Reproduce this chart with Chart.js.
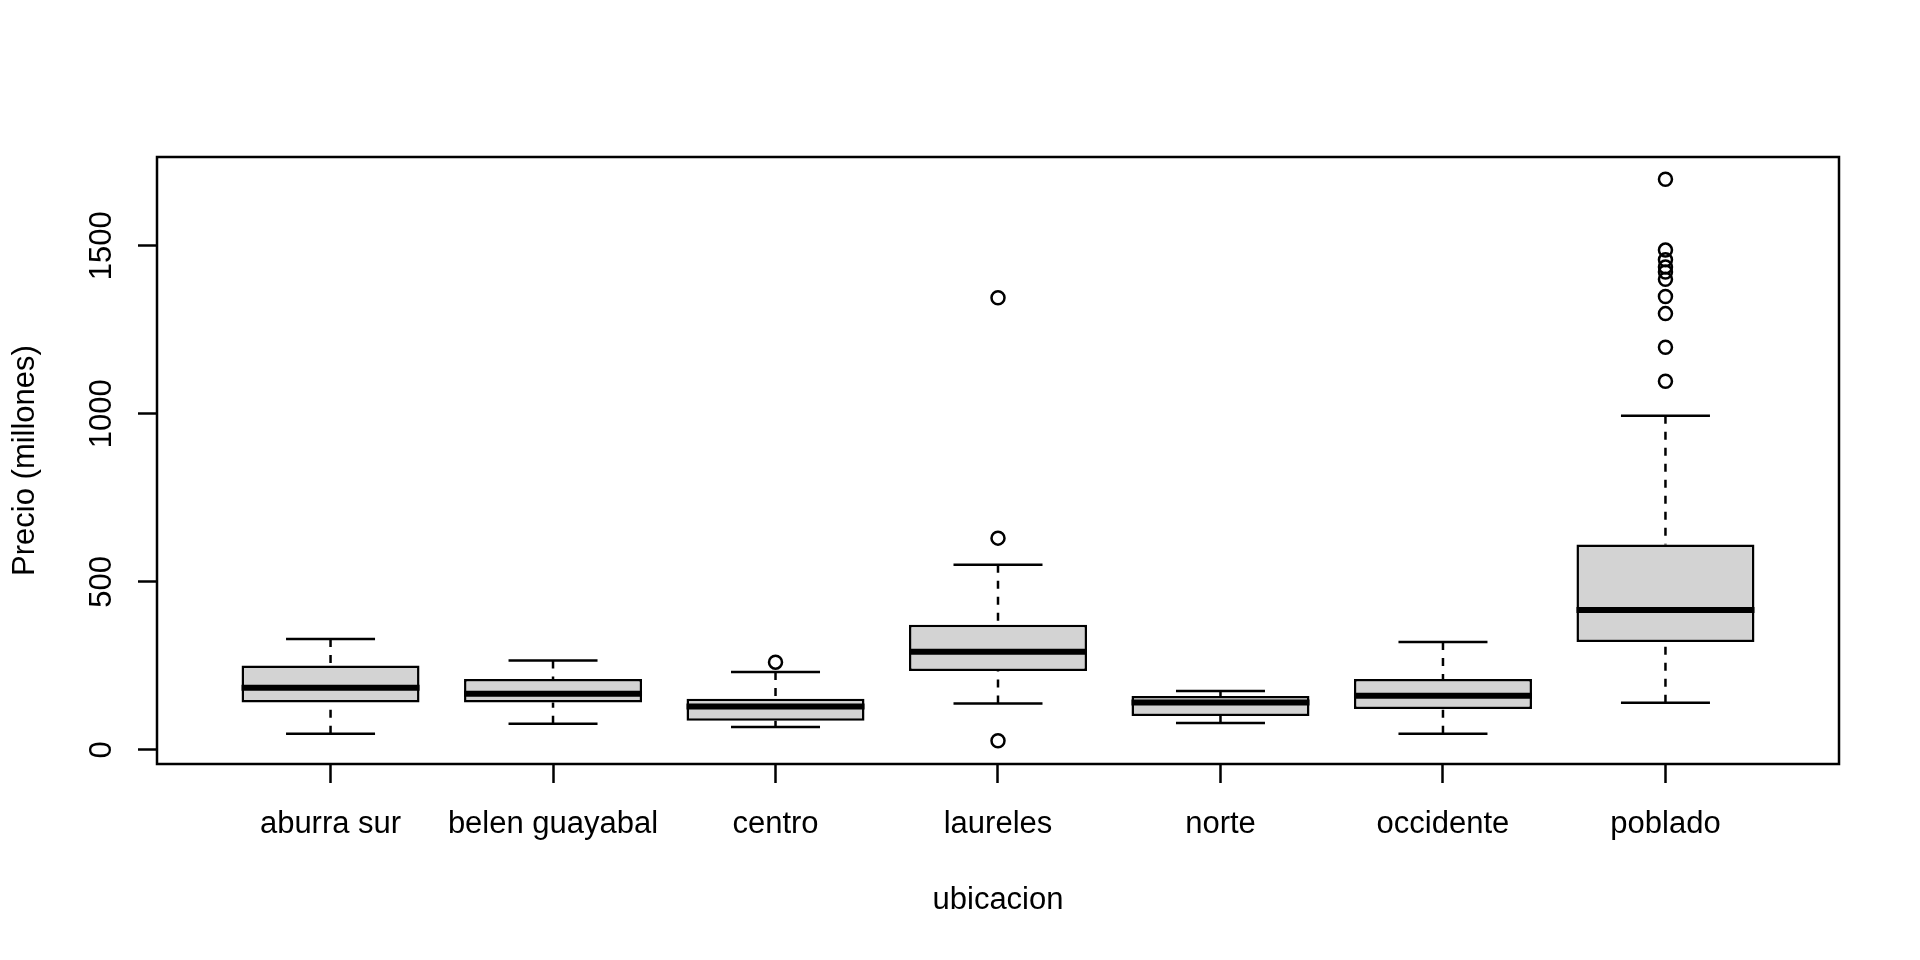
<!DOCTYPE html>
<html>
<head>
<meta charset="utf-8">
<title>Precio por ubicacion</title>
<script src="https://cdn.jsdelivr.net/npm/chart.js@4"></script>
<style>
  html, body { margin: 0; padding: 0; background: #fff; }
  #wrap { width: 1920px; height: 960px; }
</style>
</head>
<body>
<div id="wrap"><canvas id="boxChart" width="1920" height="960"></canvas></div>
<script>
// Box statistics (millones)
var categories = ['aburra sur', 'belen guayabal', 'centro', 'laureles', 'norte', 'occidente', 'poblado'];
var whiskerLow  = [48, 78, 68, 138, 80, 48, 140];
var lowerQuart  = [141, 141, 87, 235, 101, 122, 321];
var medians     = [185, 167, 129, 292, 141, 161, 416];
var upperQuart  = [251, 211, 152, 372, 160, 211, 611];
var whiskerHigh = [330, 266, 232, 551, 175, 321, 994];

// outliers per group (1-based position of the category)
var outlierGroup = [3, 4, 4, 4, 7, 7, 7, 7, 7, 7, 7, 7, 7, 7];
var outlierValue = [261, 27, 630, 1345, 1097, 1198, 1298, 1349, 1400, 1422, 1437, 1458, 1487, 1698];

var yTicks = [0, 500, 1000, 1500];
var xTicks = [1, 2, 3, 4, 5, 6, 7];

Chart.defaults.font.family = '"Liberation Sans", Arial, sans-serif';
Chart.defaults.font.size = 31;
Chart.defaults.color = '#000';

// whiskers, staples, medians and the plot frame
var boxLines = {
    id: 'boxLines',
    afterDatasetsDraw: function (chart) {
        var ctx = chart.ctx;
        var xs = chart.scales.x;
        var ys = chart.scales.y;
        ctx.save();
        ctx.strokeStyle = '#000';
        for (var i = 0; i < categories.length; i++) {
            var pos = i + 1;
            var cx = xs.getPixelForValue(pos);
            // dashed whiskers
            ctx.lineWidth = 2.5;
            ctx.setLineDash([8, 8]);
            ctx.lineCap = 'butt';
            ctx.beginPath();
            ctx.moveTo(cx, ys.getPixelForValue(whiskerHigh[i]));
            ctx.lineTo(cx, ys.getPixelForValue(upperQuart[i]));
            ctx.moveTo(cx, ys.getPixelForValue(whiskerLow[i]));
            ctx.lineTo(cx, ys.getPixelForValue(lowerQuart[i]));
            ctx.stroke();
            ctx.setLineDash([]);
            // staples
            var s0 = xs.getPixelForValue(pos - 0.2);
            var s1 = xs.getPixelForValue(pos + 0.2);
            ctx.beginPath();
            ctx.moveTo(s0, ys.getPixelForValue(whiskerHigh[i]));
            ctx.lineTo(s1, ys.getPixelForValue(whiskerHigh[i]));
            ctx.moveTo(s0, ys.getPixelForValue(whiskerLow[i]));
            ctx.lineTo(s1, ys.getPixelForValue(whiskerLow[i]));
            ctx.stroke();
            // median
            ctx.lineWidth = 6;
            ctx.beginPath();
            ctx.moveTo(xs.getPixelForValue(pos - 0.4), ys.getPixelForValue(medians[i]));
            ctx.lineTo(xs.getPixelForValue(pos + 0.4), ys.getPixelForValue(medians[i]));
            ctx.stroke();
        }
        var a = chart.chartArea;
        ctx.lineWidth = 2.5;
        ctx.strokeRect(a.left, a.top, a.right - a.left, a.bottom - a.top);
        ctx.restore();
    }
};

var boxes = categories.map(function (c, i) {
    return { x: i + 1, y: [lowerQuart[i], upperQuart[i]] };
});
var points = outlierGroup.map(function (g, i) {
    return { x: g, y: outlierValue[i] };
});

new Chart(document.getElementById('boxChart'), {
    type: 'bar',
    data: {
        datasets: [{
            type: 'scatter',
            data: points,
            pointStyle: 'circle',
            pointRadius: 6.5,
            pointBorderWidth: 2.5,
            pointBorderColor: '#000',
            pointBackgroundColor: 'rgba(0,0,0,0)'
        }, {
            type: 'bar',
            data: boxes,
            backgroundColor: '#d3d3d3',
            borderColor: '#000',
            borderWidth: 2.5,
            borderSkipped: false,
            categoryPercentage: 1,
            barPercentage: 0.8
        }]
    },
    options: {
        responsive: false,
        animation: false,
        devicePixelRatio: 1,
        layout: { padding: { left: 0, right: 81, top: 157, bottom: 0 } },
        plugins: {
            legend: { display: false },
            tooltip: { enabled: false }
        },
        scales: {
            x: {
                type: 'linear',
                min: 0.22,
                max: 7.78,
                offset: false,
                afterFit: function (scale) { scale.height = 196; },
                afterBuildTicks: function (scale) {
                    scale.ticks = xTicks.map(function (v) { return { value: v }; });
                },
                grid: { offset: false, drawOnChartArea: false, tickLength: 19, tickWidth: 2.5, tickColor: '#000' },
                border: { display: false },
                ticks: {
                    autoSkip: false,
                    maxRotation: 0,
                    padding: 23,
                    callback: function (v) { return categories[v - 1]; }
                },
                title: { display: true, text: 'ubicacion', padding: { top: 0, bottom: 41 } }
            },
            y: {
                min: -42,
                max: 1764,
                afterFit: function (scale) { scale.width = 157; },
                afterBuildTicks: function (scale) {
                    scale.ticks = yTicks.map(function (v) { return { value: v }; });
                },
                grid: { drawOnChartArea: false, tickLength: 19, tickWidth: 2.5, tickColor: '#000' },
                border: { display: false },
                ticks: {
                    minRotation: 90,
                    crossAlign: 'center',
                    padding: 1,
                    callback: function (v) { return String(v); }
                },
                title: { display: true, text: 'Precio (millones)', padding: { top: 7, bottom: 0 } }
            }
        }
    },
    plugins: [boxLines]
});
</script>
</body>
</html>
